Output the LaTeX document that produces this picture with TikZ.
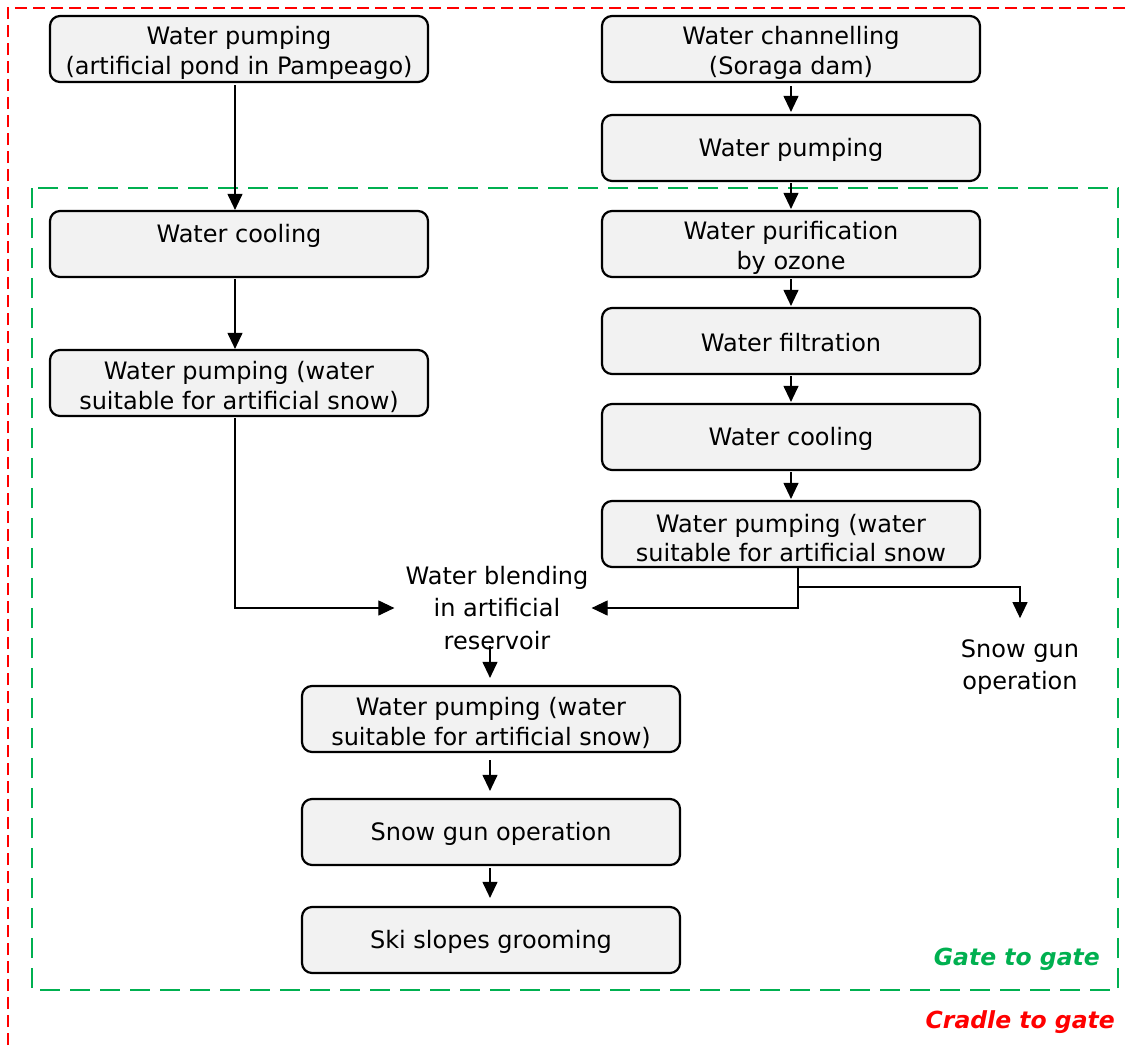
\documentclass[tikz,border=0pt]{standalone}
\usepackage{fontspec}
\setmainfont{DejaVu Sans}
\usetikzlibrary{arrows.meta}
\definecolor{boxgray}{HTML}{F2F2F2}
\definecolor{ggreen}{HTML}{00B050}
\definecolor{rred}{HTML}{FF0000}
\begin{document}
\begin{tikzpicture}[x=1pt,y=-1pt,
  box/.style={draw, line width=2.2pt, rounded corners=10pt, fill=boxgray,
    minimum width=378pt, minimum height=66pt, inner sep=0pt},
  txt/.style={align=center, inner sep=0pt, font=\fontsize{24}{29.5}\selectfont},
  two/.style={txt, yshift=-4pt},
  one/.style={txt, yshift=-2pt},
  lbl/.style={align=center, inner sep=3pt, font=\fontsize{24}{32.5}\selectfont},
  arr/.style={-{Triangle[length=16pt,width=15pt]}, line width=1.1pt},
  tag/.style={anchor=east, inner sep=0pt, font=\fontsize{23.5}{25}\selectfont\bfseries\itshape}
]
\useasboundingbox (0,0) rectangle (1127,1045);
% system boundaries
\draw[rred, line width=1.8pt, dash pattern=on 12pt off 6pt] (8,1045) -- (8,8) -- (1127,8);
\draw[ggreen, line width=2.4pt, dash pattern=on 20pt off 10pt] (32,188) rectangle (1118,990);
\node[tag, text=ggreen] (gg) at (1100,959) {Gate to gate};
\node[tag, text=rred] (cg) at (1115,1022) {Cradle to gate};

% boxes
\node[box] (a) at (239,49) {};
\node[two] (at) at (a) {Water pumping\\(artificial pond in Pampeago)};
\node[box] (b) at (791,49) {};
\node[two] (bt) at (b) {Water channelling\\(Soraga dam)};
\node[box] (c) at (791,148) {};
\node[one] (ct) at (c) {Water pumping};
\node[box] (d) at (239,244) {};
\node[two, yshift=-3pt] (dt) at (d) {Water cooling\\\phantom{p(}};
\node[box] (e) at (791,244) {};
\node[two] (et) at (e) {Water purification\\by ozone};
\node[box] (f) at (239,383) {};
\node[two] (ft) at (f) {Water pumping (water\\suitable for artificial snow)};
\node[box] (g) at (791,341) {};
\node[one] (gt) at (g) {Water filtration};
\node[box] (h) at (791,437) {};
\node[one] (ht) at (h) {Water cooling};
\node[box] (i) at (791,534) {};
\node[two] (it) at (i) {Water pumping (water\\suitable for artificial snow};
\node[lbl] (j) at (497,608) {Water blending\\in artificial\\reservoir};
\node[lbl] (k) at (1020,667) {Snow gun\\operation};
\node[box] (l) at (491,719) {};
\node[two] (lt) at (l) {Water pumping (water\\suitable for artificial snow)};
\node[box] (m) at (491,832) {};
\node[one] (mt) at (m) {Snow gun operation};
\node[box] (n) at (491,940) {};
\node[one] (nt) at (n) {Ski slopes grooming};

% connectors
\coordinate (as) at (235,85);
\coordinate (ds) at (235,279);
\coordinate (fs) at (235,418);
\coordinate (ib) at (798,568);
\coordinate (br) at (798,587);
\coordinate (js) at (490,646);
\coordinate (ls) at (490,760);
\coordinate (ms) at (490,868);
\draw[arr] (as) -- (as |- d.north);
\draw[arr] (ds) -- (ds |- f.north);
\draw[arr, shorten <=3pt, shorten >=2pt] (b) -- (c);
\draw[arr, shorten <=1pt, shorten >=1pt] (c) -- (e);
\draw[arr, shorten <=1pt, shorten >=1pt] (e) -- (g);
\draw[arr, shorten <=1pt, shorten >=1pt] (g) -- (h);
\draw[arr, shorten <=1pt, shorten >=1pt] (h) -- (i);
\draw[arr, shorten >=8pt] (fs) |- (j.west);
\draw[arr] (ib) |- (j.east);
\draw[arr, shorten >=18pt] (br) -| (k.north);
\draw[arr, shorten >=7pt] (js) -- (js |- l.north);
\draw[arr, shorten >=7pt] (ls) -- (ls |- m.north);
\draw[arr, shorten >=8pt] (ms) -- (ms |- n.north);
\end{tikzpicture}
\end{document}
